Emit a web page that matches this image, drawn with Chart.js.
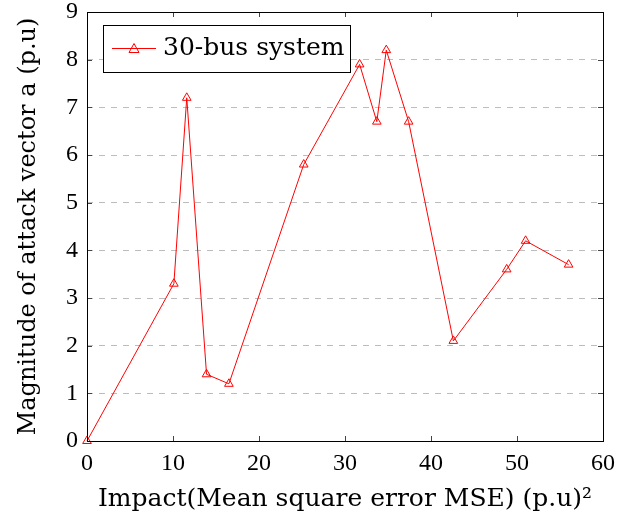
<!DOCTYPE html>
<html>
<head>
<meta charset="utf-8">
<script src="https://cdn.jsdelivr.net/npm/chart.js@4.4.1/dist/chart.umd.min.js"></script>
<style>
  html, body { margin: 0; padding: 0; background: #fff; }
  #wrap { width: 620px; height: 530px; }
</style>
</head>
<body>
<div id="wrap"><canvas id="chart" width="620" height="530"></canvas></div>
<script>
// values
const impactMse = [0, 10.1, 11.6, 13.9, 16.5, 25.2, 31.7, 33.7, 34.8, 37.4, 42.6, 48.8, 51.0, 56.0];
const attackMagnitude = [0, 3.3, 7.2, 1.4, 1.2, 5.8, 7.9, 6.7, 8.2, 6.7, 2.1, 3.6, 4.2, 3.7];
const seriesName = "30-bus system";
const xTicks = [0, 10, 20, 30, 40, 50, 60];
const yTicks = [0, 1, 2, 3, 4, 5, 6, 7, 8, 9];

const serif = "'Liberation Serif', 'DejaVu Serif', serif";
const wideSerif = "'DejaVu Serif', 'Liberation Serif', serif";
const red = '#ff0000';

// inner tick marks, frame and boxed legend (pgfplots look)
const framePlugin = {
    id: 'frame',
    afterDraw(chart) {
        const { ctx, chartArea: a, scales } = chart;
        ctx.save();
        ctx.strokeStyle = '#444';
        ctx.lineWidth = 1;
        ctx.beginPath();
        yTicks.forEach(v => {
            const y = Math.round(scales.y.getPixelForValue(v)) + 0.5;
            ctx.moveTo(a.left, y); ctx.lineTo(a.left + 5, y);
            ctx.moveTo(a.right, y); ctx.lineTo(a.right - 5, y);
        });
        xTicks.forEach(v => {
            const x = Math.round(scales.x.getPixelForValue(v)) + 0.5;
            ctx.moveTo(x, a.bottom); ctx.lineTo(x, a.bottom - 5);
            ctx.moveTo(x, a.top); ctx.lineTo(x, a.top + 5);
        });
        ctx.stroke();

        ctx.strokeStyle = '#000';
        ctx.strokeRect(Math.round(a.left) + 0.5, Math.round(a.top) + 0.5,
                       Math.round(a.right - a.left), Math.round(a.bottom - a.top));

        // legend box
        const lx = a.left + 16, ly = a.top + 13, lw = 247, lh = 47;
        ctx.fillStyle = '#fff';
        ctx.fillRect(lx, ly, lw, lh);
        ctx.strokeStyle = '#000';
        ctx.strokeRect(lx + 0.5, ly + 0.5, lw, lh);
        const cy = ly + lh / 2;
        ctx.strokeStyle = red;
        ctx.beginPath();
        ctx.moveTo(lx + 9, cy); ctx.lineTo(lx + 53, cy);
        ctx.stroke();
        ctx.beginPath();
        ctx.moveTo(lx + 31, cy - 5); ctx.lineTo(lx + 36, cy + 4); ctx.lineTo(lx + 26, cy + 4);
        ctx.closePath();
        ctx.stroke();
        ctx.fillStyle = '#000';
        ctx.font = "25px " + wideSerif;
        ctx.textBaseline = 'middle';
        ctx.fillText(seriesName, lx + 60, cy);
        ctx.restore();
    }
};

new Chart(document.getElementById('chart'), {
    type: 'scatter',
    data: {
        datasets: [{
            label: seriesName,
            data: impactMse.map((x, i) => ({ x: x, y: attackMagnitude[i] })),
            showLine: true,
            borderColor: red,
            borderWidth: 1,
            pointStyle: 'triangle',
            pointRadius: 5,
            pointBorderColor: red,
            pointBackgroundColor: 'rgba(0,0,0,0)',
            pointBorderWidth: 1,
            clip: false
        }]
    },
    options: {
        responsive: false,
        animation: false,
        layout: { padding: { top: 12, right: 17, left: 10, bottom: 0 } },
        plugins: { legend: { display: false }, tooltip: { enabled: false } },
        scales: {
            x: {
                type: 'linear', min: 0, max: 60,
                afterBuildTicks: s => { s.ticks = xTicks.map(v => ({ value: v })); },
                afterFit: s => { s.height = 89; s.paddingLeft = 0; s.paddingRight = 0; },
                grid: { display: false, drawTicks: false },
                border: { display: false },
                ticks: { color: '#000', padding: 8, font: { family: serif, size: 24 } },
                title: {
                    display: true, text: 'Impact(Mean square error MSE) (p.u)²',
                    color: '#000', font: { family: wideSerif, size: 25 }, padding: { top: 0, bottom: 16 }
                }
            },
            y: {
                type: 'linear', min: 0, max: 9,
                afterBuildTicks: s => { s.ticks = yTicks.map(v => ({ value: v })); },
                afterFit: s => { s.width = 77; s.paddingTop = 0; s.paddingBottom = 0; },
                grid: { color: '#bdbdbd', lineWidth: 1, drawTicks: false },
                border: { display: false, dash: [6, 6] },
                ticks: { color: '#000', padding: 9, font: { family: serif, size: 24 } },
                title: {
                    display: true, text: 'Magnitude of attack vector a (p.u)',
                    color: '#000', font: { family: wideSerif, size: 24 }, padding: { bottom: 2 }
                }
            }
        }
    },
    plugins: [framePlugin]
});
</script>
</body>
</html>
